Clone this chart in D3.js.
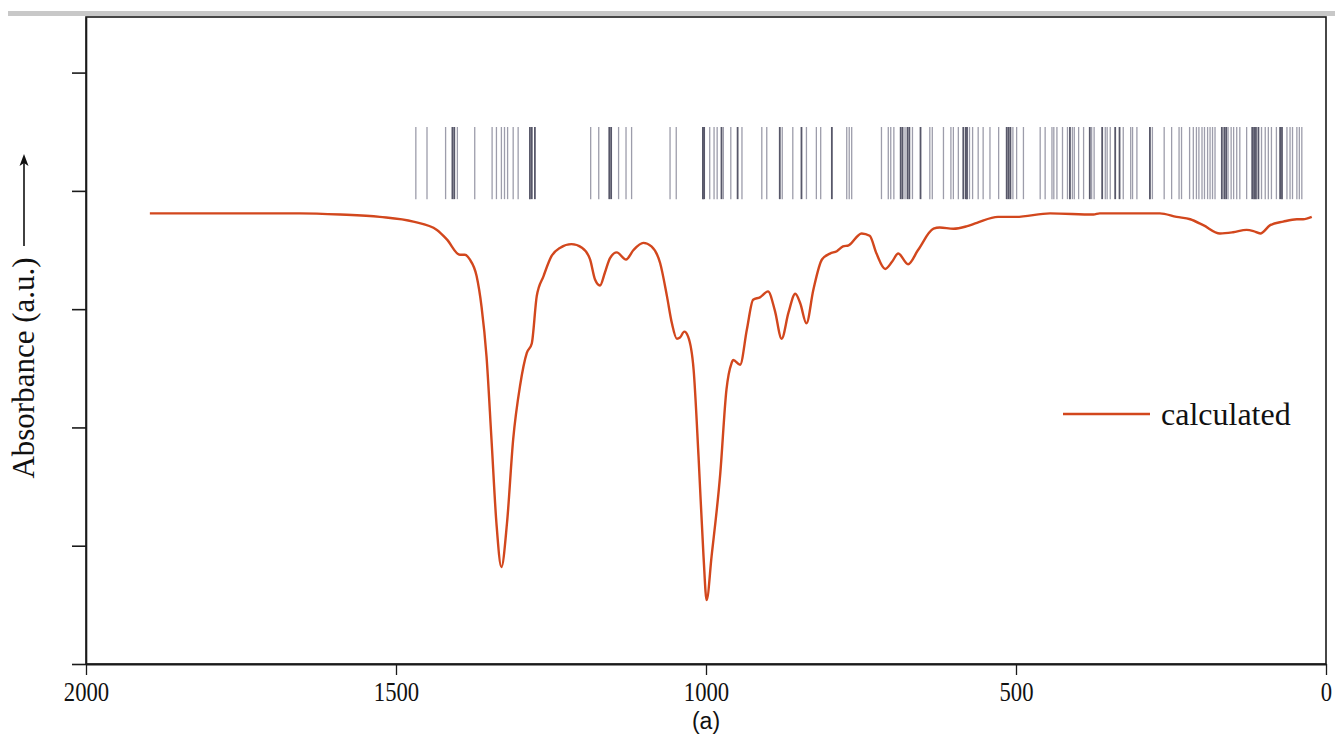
<!DOCTYPE html>
<html>
<head>
<meta charset="utf-8">
<script src="https://cdn.jsdelivr.net/npm/d3@7/dist/d3.min.js"></script>
<style>
  html, body { margin: 0; padding: 0; background: #ffffff; }
  svg { display: block; }
</style>
</head>
<body>
<svg id="chart" width="1335" height="749"></svg>
<script>
// Calculated IR spectrum: wavenumber (cm-1) and absorbance (a.u.)
const wavenumbers = [1897, 1655, 1590, 1526, 1472, 1434, 1418, 1397, 1389, 1381, 1370, 1362, 1354, 1346, 1338, 1330,
  1321, 1311, 1300, 1289, 1281, 1273, 1262, 1249, 1235, 1217, 1200, 1187, 1179, 1171, 1163, 1155, 1144, 1129, 1117,
  1101, 1088, 1074, 1063, 1055, 1047, 1042, 1035, 1029, 1020, 1012, 1004, 999, 991, 977, 967, 959, 956, 945, 934,
  924, 913, 900, 889, 878, 867, 856, 848, 838, 827, 813, 800, 789, 779, 770, 749, 736, 725, 711, 700, 690, 674, 658,
  633, 623, 601, 580, 563, 529, 500, 445, 375, 365, 268, 241, 219, 198, 171, 150, 128, 117, 106, 90, 69, 47, 37, 23];
const absorbance = [3.81, 3.81, 3.80, 3.78, 3.74, 3.67, 3.59, 3.46, 3.46, 3.42, 3.28, 3.02, 2.60, 1.90, 1.19, 0.82,
  1.19, 1.90, 2.35, 2.63, 2.71, 3.11, 3.28, 3.45, 3.52, 3.55, 3.52, 3.42, 3.25, 3.20, 3.31, 3.43, 3.48, 3.42, 3.50,
  3.56, 3.53, 3.39, 3.11, 2.88, 2.75, 2.76, 2.81, 2.77, 2.49, 1.75, 0.91, 0.54, 0.91, 1.61, 2.32, 2.54, 2.57, 2.53, 2.83,
  3.08, 3.10, 3.15, 2.99, 2.75, 2.97, 3.13, 3.05, 2.88, 3.16, 3.42, 3.47, 3.49, 3.53, 3.54, 3.64, 3.62, 3.47, 3.34, 3.40, 3.47, 3.38, 3.50,
  3.68, 3.69, 3.68, 3.70, 3.73, 3.78, 3.78, 3.81, 3.80, 3.81, 3.81, 3.78, 3.76, 3.71, 3.64, 3.65, 3.67, 3.66, 3.64, 3.71, 3.74, 3.76, 3.76, 3.78];

// Computed vibrational mode positions (cm-1), drawn as sticks
const modesWeak = [1468, 1450, 1420, 1401, 1373, 1345, 1338, 1330, 1325, 1320, 1311, 1303, 1186, 1173, 1141, 1129, 1120,
  1058, 1048, 994, 987, 982, 972, 960, 942, 910, 902, 877, 860, 838, 822, 815, 773, 769, 765,
  717, 706, 702, 697, 679, 667, 639, 635, 617, 605, 601, 593, 575, 570, 561, 553, 542, 528, 505, 499, 488,
  461, 453, 442, 439, 434, 425, 417, 409, 406, 399, 391, 378, 374, 356, 353, 348, 327, 315, 312, 305, 280,
  261, 249, 237, 233, 220, 214, 209, 205, 200, 196, 191, 187, 183, 179, 158, 153, 149, 144, 139, 128,
  104, 98, 93, 88, 80, 63, 58, 54, 47, 43, 39];
const modesStrong = [1409, 1406, 1284, 1281, 1276, 1156, 1153, 1005, 1003, 975, 949, 881, 846, 797,
  686, 683, 675, 672, 654, 585, 581, 579, 515, 512, 509, 413, 381, 361, 340, 333, 284,
  168, 164, 161, 119, 116, 113, 109, 74, 71];
const stickRange = [3.93, 4.54];

const xTicks = [2000, 1500, 1000, 500, 0];
const yTicks = [0, 1, 2, 3, 4, 5];
const seriesName = "calculated";

const serif = "'Liberation Serif', 'Times New Roman', serif";
const svg = d3.select("#chart");
const x = d3.scaleLinear().domain([2000, 0]).range([86, 1326]);
const y = d3.scaleLinear().domain([0, 5.47]).range([664, 17]);

// thin grey rule along the top of the figure
svg.append("rect").attr("x", 8).attr("y", 11).attr("width", 1327).attr("height", 5).attr("fill", "#c8c8c8");

// plot frame
svg.append("rect")
  .attr("x", x(2000)).attr("y", y(5.47))
  .attr("width", x(0) - x(2000)).attr("height", y(0) - y(5.47))
  .attr("fill", "none").attr("stroke", "#1a1a1a").attr("stroke-width", 1.6);

// vibrational mode sticks
const sticks = svg.append("g");
const drawSticks = (vals, color, width) => {
  sticks.selectAll(null).data(vals).enter().append("line")
    .attr("x1", d => x(d)).attr("x2", d => x(d))
    .attr("y1", y(stickRange[0])).attr("y2", y(stickRange[1]))
    .attr("stroke", color).attr("stroke-width", width);
};
drawSticks(modesWeak, "#9d9dab", 1.3);
drawSticks(modesStrong, "#575769", 1.8);

// spectrum
const pts = wavenumbers.map((w, i) => [w, absorbance[i]]);
svg.append("path")
  .datum(pts)
  .attr("fill", "none")
  .attr("stroke", "#d2471d")
  .attr("stroke-width", 2.4)
  .attr("stroke-linejoin", "round")
  .attr("d", d3.line().x(d => x(d[0])).y(d => y(d[1])).curve(d3.curveMonotoneX));

// axes
const yAxis = svg.append("g").attr("transform", `translate(${x(2000)},0)`)
  .call(d3.axisLeft(y).tickValues(yTicks).tickSize(14).tickSizeOuter(0).tickFormat(""));
yAxis.select(".domain").attr("stroke", "#1a1a1a").attr("stroke-width", 1.6);
yAxis.selectAll(".tick line").attr("stroke", "#1a1a1a").attr("stroke-width", 1.6);

const xAxis = svg.append("g").attr("transform", `translate(0,${y(0)})`)
  .call(d3.axisBottom(x).tickValues(xTicks).tickSize(11).tickSizeOuter(0).tickPadding(7).tickFormat(d3.format("d")));
xAxis.select(".domain").attr("stroke", "#1a1a1a").attr("stroke-width", 2.2);
xAxis.selectAll(".tick line").attr("stroke", "#1a1a1a").attr("stroke-width", 1.3);
xAxis.selectAll(".tick text")
  .attr("font-family", serif)
  .attr("font-size", 27).attr("fill", "#111")
  .attr("transform", "scale(0.84,1)");

// panel label
svg.append("text").attr("x", x(1000)).attr("y", 729).attr("text-anchor", "middle")
  .attr("font-family", "'Liberation Sans', Arial, sans-serif").attr("font-size", 23).attr("fill", "#111")
  .text("(a)");

// y axis title with arrow
svg.append("text")
  .attr("transform", "translate(34,368) rotate(-90)")
  .attr("text-anchor", "middle")
  .attr("font-family", serif)
  .attr("font-size", 31).attr("fill", "#111")
  .text("Absorbance (a.u.)");
svg.append("line").attr("x1", 24).attr("x2", 24).attr("y1", 246).attr("y2", 160)
  .attr("stroke", "#111").attr("stroke-width", 1.6);
svg.append("path").attr("d", "M24,154 L19.5,166 L24,163 L28.5,166 Z").attr("fill", "#111");

// legend
svg.append("line").attr("x1", 1063).attr("x2", 1150).attr("y1", 414).attr("y2", 414)
  .attr("stroke", "#d2471d").attr("stroke-width", 2.4);
svg.append("text").attr("x", 1161).attr("y", 425)
  .attr("font-family", serif)
  .attr("font-size", 32).attr("fill", "#111")
  .text(seriesName);
</script>
</body>
</html>
